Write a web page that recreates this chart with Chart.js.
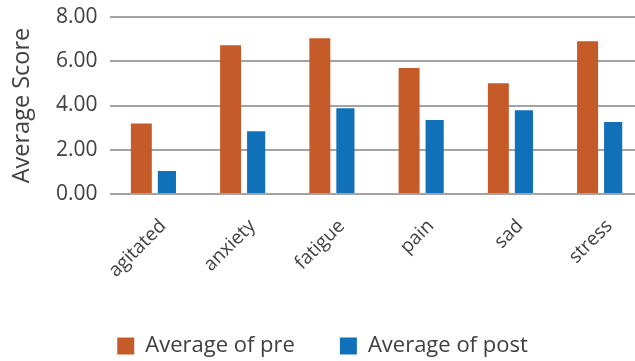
<!DOCTYPE html>
<html>
<head>
<meta charset="utf-8">
<script src="https://cdn.jsdelivr.net/npm/chart.js@4/dist/chart.umd.min.js"></script>
<style>
  html, body { margin: 0; padding: 0; background: #fff; overflow: hidden; }
  #wrap { width: 646px; height: 367px; position: relative; }
</style>
</head>
<body>
<div id="wrap"><canvas id="c"></canvas></div>
<script>
// Symptom categories and the mean scores before and after
const categories = ["agitated", "anxiety", "fatigue", "pain", "sad", "stress"];
const preScores  = [3.19, 6.72, 7.04, 5.69, 5.01, 6.90];
const postScores = [1.04, 2.84, 3.88, 3.34, 3.79, 3.25];
const yTicks = [0, 2, 4, 6, 8];

const textColor = "#404040";
const fontFamily = "'Open Sans', 'DejaVu Sans', sans-serif";

new Chart(document.getElementById("c"), {
  type: "bar",
  data: {
    labels: categories,
    datasets: [
      {
        label: "Average of pre",
        data: preScores,
        backgroundColor: "#C55B28",
        barPercentage: 0.82,
        categoryPercentage: 0.573
      },
      {
        label: "Average of post",
        data: postScores,
        backgroundColor: "#1070B8",
        barPercentage: 0.71,
        categoryPercentage: 0.573
      }
    ]
  },
  options: {
    responsive: true,
    maintainAspectRatio: false,
    animation: false,
    layout: { padding: { top: 17, right: 1, bottom: 0, left: 0 } },
    plugins: {
      tooltip: { enabled: false },
      legend: {
        position: "bottom",
        labels: {
          color: textColor,
          font: { family: fontFamily, size: 22 },
          boxWidth: 17,
          boxHeight: 17,
          padding: 45
        }
      }
    },
    scales: {
      x: {
        grid: { display: false, drawTicks: false },
        border: { display: false },
        ticks: {
          color: textColor,
          font: { family: fontFamily, size: 19 },
          minRotation: 45,
          maxRotation: 45,
          padding: 21,
          labelOffset: 9
        },
        afterFit: s => { s.height = 96; }
      },
      y: {
        min: 0,
        max: 8,
        afterBuildTicks: s => { s.ticks = yTicks.map(v => ({ value: v })); },
        grid: { color: "#a3a3a3", lineWidth: 2, drawTicks: false },
        border: { display: false },
        ticks: {
          color: textColor,
          font: { family: fontFamily, size: 21 },
          padding: 12,
          callback: v => Number(v).toFixed(2)
        },
        title: {
          display: true,
          text: "Average Score",
          color: textColor,
          font: { family: fontFamily, size: 23.5 },
          padding: { top: 8, bottom: 0 }
        },
        afterFit: s => {
          s.width = 109.5;
          // the outer tick labels may overhang the plot edges
          s.paddingTop = 0;
          s.paddingBottom = 0;
        }
      }
    }
  }
});
</script>
</body>
</html>
